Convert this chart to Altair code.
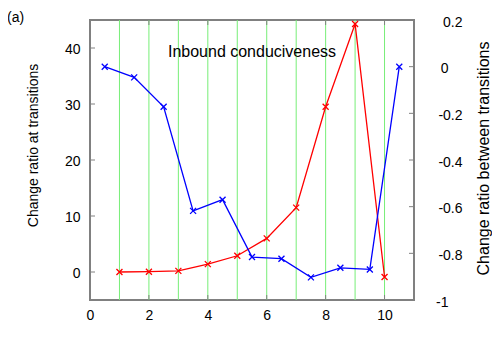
import altair as alt
import pandas as pd

# ---- data ----
red_x = [1, 2, 3, 4, 5, 6, 7, 8, 9, 10]
red_y = [0.0, 0.05, 0.2, 1.4, 2.9, 6.0, 11.5, 29.5, 44.3, -0.9]

blue_x = [0.5, 1.5, 2.5, 3.5, 4.5, 5.5, 6.5, 7.5, 8.5, 9.5, 10.5]
blue_y = [0.0, -0.046, -0.172, -0.618, -0.570, -0.816, -0.823, -0.903, -0.862, -0.869, 0.0]

grid_x = [1, 2, 3, 4, 5, 6, 7, 8, 9, 10]
x_ticks = [0, 2, 4, 6, 8, 10]
left_ticks = [0, 10, 20, 30, 40]
right_ticks = [-1, -0.8, -0.6, -0.4, -0.2, 0, 0.2]

panel_label = ["(a)"]
inner_title = ["Inbound conduciveness"]
left_title = "Change ratio at transitions"
right_title = "Change ratio between transitions"

# ---- styling ----
FONT = "Liberation Sans"
GRAY = "#808080"
W, H = 324, 280
CROSS = "M-1,-1L1,1M1,-1L-1,1"
TL = 5  # inward tick length

red_df = pd.DataFrame({"x": red_x, "y": red_y})
blue_df = pd.DataFrame({"x": blue_x, "y": blue_y})
grid_df = pd.DataFrame({"x": grid_x})
xt_df = pd.DataFrame({"x": x_ticks})
lt_df = pd.DataFrame({"y": left_ticks})
rt_df = pd.DataFrame({"y": right_ticks})
a_df = pd.DataFrame({"t": panel_label})
it_df = pd.DataFrame({"t": inner_title})

xscale = alt.Scale(domain=[0, 11], nice=False, zero=False)
lscale = alt.Scale(domain=[-5, 45], nice=False, zero=False)
rscale = alt.Scale(domain=[-1, 0.2], nice=False, zero=False)

xaxis = alt.Axis(values=x_ticks, ticks=False, domain=False, grid=False,
                 labelPadding=8, labelFontSize=14, labelFlush=False,
                 labelColor="black", labelFont=FONT, title="")
laxis = alt.Axis(values=left_ticks, ticks=False, domain=False, grid=False,
                 orient="left", labelPadding=10, labelFontSize=14, labelColor="black",
                 labelFont=FONT, labelOffset=1.5,
                 title=left_title, titleFont=FONT, titleFontSize=14,
                 titleFontWeight="normal", titleColor="black", titleAngle=270,
                 titleBaseline="middle", titleAlign="center", titleX=-57, titleY=125)
raxis = alt.Axis(values=right_ticks, ticks=False, domain=False, grid=False,
                 orient="right", labelAlign="right",
                 labelPadding={"condition": {"test": "datum.value == round(datum.value)", "value": 34},
                               "value": 48},
                 labelFontSize=14, labelColor="black", labelFont=FONT, labelOffset=2,
                 labelExpr="(datum.value < 0 ? '-' : '') + format(abs(datum.value), '~g')",
                 title=right_title, titleFont=FONT, titleFontSize=16,
                 titleFontWeight="normal", titleColor="black", titleAngle=270,
                 titleBaseline="middle", titleAlign="center", titleX=69, titleY=138)

X = alt.X("x:Q", scale=xscale, axis=xaxis)
YL = alt.Y("y:Q", scale=lscale, axis=laxis)
YR = alt.Y("y:Q", scale=rscale, axis=raxis)

grid = alt.Chart(grid_df).mark_rule(color="#77ee77", strokeWidth=1).encode(x=X)
red_line = alt.Chart(red_df).mark_line(color="#ff0000", strokeWidth=1.3).encode(x=X, y=YL)
red_pts = alt.Chart(red_df).mark_point(shape=CROSS, size=36, color="#ff0000",
                                       strokeWidth=1.3, filled=False, opacity=1).encode(x=X, y=YL)
bottom_ticks = alt.Chart(xt_df).mark_rule(color=GRAY, strokeWidth=1).encode(
    x=X, y=alt.value(H), y2=alt.value(H - TL))
top_ticks = alt.Chart(xt_df).mark_rule(color=GRAY, strokeWidth=1).encode(
    x=X, y=alt.value(0), y2=alt.value(TL))
left_tk = alt.Chart(lt_df).mark_rule(color=GRAY, strokeWidth=1).encode(
    y=YL, x=alt.value(0), x2=alt.value(TL))
txt_a = alt.Chart(a_df).mark_text(
    font=FONT, fontSize=14, align="left", baseline="middle", color="black"
).encode(text="t:N", x=alt.value(-83), y=alt.value(-2))
txt_title = alt.Chart(it_df).mark_text(
    font=FONT, fontSize=16, align="center", baseline="middle", color="black"
).encode(text="t:N", x=alt.value(162), y=alt.value(32))

left = alt.layer(grid, bottom_ticks, top_ticks, left_tk, red_line, red_pts, txt_a, txt_title)

blue_line = alt.Chart(blue_df).mark_line(color="#0000ff", strokeWidth=1.3).encode(x=X, y=YR)
blue_pts = alt.Chart(blue_df).mark_point(shape=CROSS, size=36, color="#0000ff",
                                         strokeWidth=1.3, filled=False, opacity=1).encode(x=X, y=YR)
right_tk = alt.Chart(rt_df).mark_rule(color=GRAY, strokeWidth=1).encode(
    y=YR, x=alt.value(W), x2=alt.value(W - TL))
right = alt.layer(right_tk, blue_line, blue_pts)

chart = (
    alt.layer(left, right)
    .resolve_scale(y="independent")
    .properties(width=W, height=H, background="white",
                autosize=alt.AutoSizeParams(type="none"),
                padding={"left": 82, "top": 12, "right": 78, "bottom": 40})
    .configure_view(stroke=GRAY, strokeWidth=2)
)

chart.save("out.html", embed_options={"renderer": "svg", "actions": False})
